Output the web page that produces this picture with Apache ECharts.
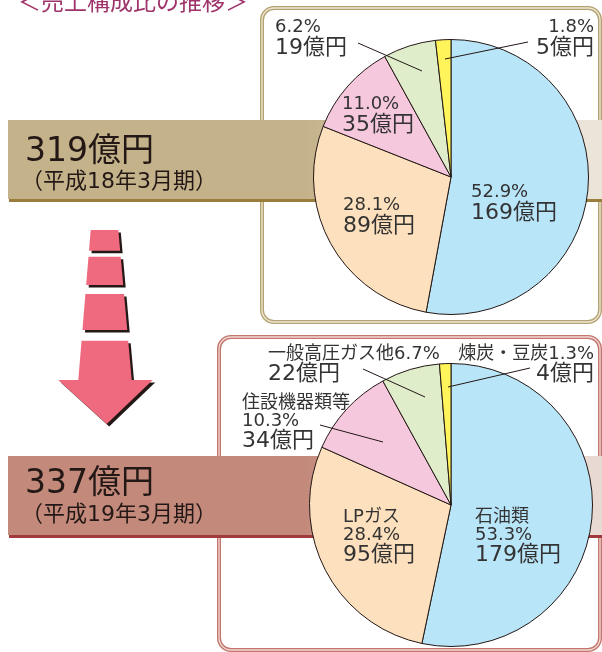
<!DOCTYPE html>
<html><head><meta charset="utf-8">
<script src="https://cdn.jsdelivr.net/npm/echarts@6/dist/echarts.min.js"></script>
<style>html,body{margin:0;padding:0;background:#fff}#c{width:602px;height:652px}</style>
</head><body><div id="c"></div>
<script>
// ---- data ----
const title = '＜売上構成比の推移＞';
const categories = ['石油類', 'LPガス', '住設機器類等', '一般高圧ガス他', '煉炭・豆炭'];
const share2006 = [52.9, 28.1, 11.0, 6.2, 1.8];
const sales2006 = [169, 89, 35, 19, 5];
const share2007 = [53.3, 28.4, 10.3, 6.7, 1.3];
const sales2007 = [179, 95, 34, 22, 4];
const totals = ['319億円', '337億円'];
const periods = ['（平成18年3月期）', '（平成19年3月期）'];

// ---- styling / layout ----
const FONT = '"DejaVu Sans", "Noto Sans CJK JP", sans-serif';
const colors = ['#b9e5f9', '#fde0bd', '#f6c8de', '#dfedcb', '#fff459'];
const TXT = '#333333';
const topLabelPos = [
  {x: 471, y: 182},
  {x: 343, y: 195},
  {x: 342, y: 94},
  {x: 275, y: 17, line: [[358, 43], [422, 71]]},
  {x: 594, y: 17, align: 'right', line: [[528, 42], [445, 59]]}
];
const botLabelPos = [
  {x: 475, y: 508},
  {x: 343, y: 508},
  {x: 242, y: 394, line: [[320, 425], [383, 442]]},
  {x: 268, y: 345, line: [[363, 369], [425, 397]]},
  {x: 594, y: 345, align: 'right', line: [[530, 368], [448, 387]]}
];

function richSet(pLH) {
  return {
    n: {fontFamily: FONT, fontSize: 18, lineHeight: 18, color: TXT},
    p: {fontFamily: FONT, fontSize: 18, lineHeight: pLH, color: TXT},
    v: {fontFamily: FONT, fontSize: 22, lineHeight: 22, color: TXT},
    pr: {fontFamily: FONT, fontSize: 18, lineHeight: pLH, color: TXT, align: 'right'},
    vr: {fontFamily: FONT, fontSize: 22, lineHeight: 22, color: TXT, align: 'right'}
  };
}

function makeData(shares, posArr) {
  return shares.map((s, i) => ({
    name: categories[i],
    value: s,
    itemStyle: {color: colors[i]},
    label: {position: posArr[i].line ? 'outside' : 'inside'}
  }));
}

function layoutFn(posArr) {
  return function (params) {
    const p = posArr[params.dataIndex];
    return {x: p.x, y: p.y, align: p.align || 'left', verticalAlign: 'top'};
  };
}

// arrow geometry (decoration)
function shaftL(y) { return 90.7 - 12.4 * (y - 230) / 150; }
function shaftR(y) { return 118.3 + 13.4 * (y - 230) / 150; }
const segs = [[230, 250.7], [256.7, 285], [294, 330], [340.7, 380]];
const arrowPolys = segs.map(([a, b]) => [[shaftL(a), a], [shaftR(a), a], [shaftR(b), b], [shaftL(b), b]]);
arrowPolys.push([[58.3, 380], [152.7, 380], [106.7, 424]]);

const graphics = [];
// title (partly cut off at top)
graphics.push({type: 'text', z: 1, style: {text: title, x: 18, y: 1, font: '23px "Noto Sans CJK JP", sans-serif', fill: '#9e3369', textVerticalAlign: 'middle', textAlign: 'left'}});
// frames
function frame(x, y, w, h, outer, inner) {
  graphics.push({type: 'rect', z: 0, shape: {x, y, width: w, height: h, r: 12}, style: {fill: '#fff', stroke: outer, lineWidth: 4}});
  graphics.push({type: 'rect', z: 0, shape: {x, y, width: w, height: h, r: 12}, style: {fill: null, stroke: inner, lineWidth: 1.3}});
}
frame(262, 8, 338, 314, '#b3a372', '#efe8d3');
frame(219, 337, 381, 313, '#c2766d', '#f3d9d4');
// bands
function band(y, h, c1, c2, lineC) {
  graphics.push({type: 'rect', z: 1, shape: {x: 8, y, width: 594, height: h}, style: {fill: new echarts.graphic.LinearGradient(0, 0, 1, 0, [
    {offset: 0, color: c1}, {offset: 0.5, color: c1}, {offset: 0.93, color: c2}, {offset: 1, color: c2}])}});
  graphics.push({type: 'rect', z: 1, shape: {x: 9, y: y + h, width: 593, height: 3}, style: {fill: lineC}});
}
band(120, 79, '#c4b28a', '#ebe5d9', '#9a7d3b');
band(456, 79, '#c38a7c', '#e8d9d3', '#a13a3c');
// band texts
function bandText(t1, t2, y1, y2) {
  graphics.push({type: 'text', z: 3, style: {text: t1, x: 25, y: y1, font: '33px ' + FONT, fill: '#231815', textVerticalAlign: 'middle'}});
  graphics.push({type: 'text', z: 3, style: {text: t2, x: 21, y: y2, font: '22px ' + FONT, fill: '#231815', textVerticalAlign: 'middle'}});
}
bandText(totals[0], periods[0], 152, 182);
bandText(totals[1], periods[1], 484, 515);
// arrow
arrowPolys.forEach(pts => {
  graphics.push({type: 'polygon', z: 1, shape: {points: pts.map(([x, y]) => [x + 2.5, y + 2.5])}, style: {fill: '#231815'}});
});
arrowPolys.forEach(pts => {
  graphics.push({type: 'polygon', z: 1, shape: {points: pts}, style: {fill: '#ef6a7f'}});
});
// leader lines above the pies
topLabelPos.concat(botLabelPos).forEach(p => {
  if (p.line) graphics.push({type: 'polyline', z: 20, shape: {points: p.line}, style: {stroke: '#231815', lineWidth: 1, fill: null}});
});

const chart = echarts.init(document.getElementById('c'), null, {renderer: 'canvas'});
chart.setOption({
  animation: false,
  backgroundColor: '#fff',
  graphic: {elements: graphics},
  series: [
    {
      type: 'pie', z: 5, center: [451, 177], radius: 137.5, startAngle: 90, clockwise: true,
      avoidLabelOverlap: false, silent: true,
      itemStyle: {borderColor: '#231815', borderWidth: 1},
      label: {
        show: true, color: TXT, fontFamily: FONT, rich: richSet(20),
        formatter: p => {
          const i = p.dataIndex;
          const pct = share2006[i].toFixed(1) + '%';
          const v = sales2006[i] + '億円';
          return i === 4 ? `{pr|${pct}}\n{vr|${v}}` : `{p|${pct}}\n{v|${v}}`;
        }
      },
      labelLine: {show: false},
      labelLayout: layoutFn(topLabelPos),
      data: makeData(share2006, topLabelPos)
    },
    {
      type: 'pie', z: 5, center: [451, 505], radius: 141.5, startAngle: 90, clockwise: true,
      avoidLabelOverlap: false, silent: true,
      itemStyle: {borderColor: '#231815', borderWidth: 1},
      label: {
        show: true, color: TXT, fontFamily: FONT, rich: richSet(18),
        formatter: p => {
          const i = p.dataIndex;
          const pct = share2007[i].toFixed(1) + '%';
          const v = sales2007[i] + '億円';
          if (i <= 2) return `{n|${categories[i]}}\n{p|${pct}}\n{v|${v}}`;
          if (i === 3) return `{p|${categories[i]}${pct}}\n{v|${v}}`;
          return `{pr|${categories[i]}${pct}}\n{vr|${v}}`;
        }
      },
      labelLine: {show: false},
      labelLayout: layoutFn(botLabelPos),
      data: makeData(share2007, botLabelPos)
    }
  ]
});
</script>
</body></html>
